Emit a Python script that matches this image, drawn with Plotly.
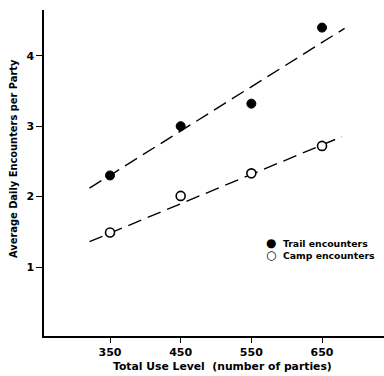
import plotly.graph_objects as go

# Data
use_level = [350, 450, 550, 650]
trail_encounters = [2.30, 3.00, 3.32, 4.40]
camp_encounters = [1.49, 2.01, 2.33, 2.72]

# Fitted (dashed) lines: endpoints
trail_fit_x = [321, 682]
trail_fit_y = [2.12, 4.39]
camp_fit_x = [321, 678]
camp_fit_y = [1.36, 2.85]

x_ticks = [350, 450, 550, 650]
y_ticks = [1, 2, 3, 4]

series_names = ["Trail encounters", "Camp encounters"]

FONT = "DejaVu Sans"
W, H = 384, 376
ML, MR, MT, MB = 44, 0, 10, 40
PW, PH = W - ML - MR, H - MT - MB


def px(x):
    return (x - ML) / PW


def py(y):
    return (H - MB - y) / PH


fig = go.Figure()
fig.add_trace(go.Scatter(x=trail_fit_x, y=trail_fit_y, mode="lines",
                         line=dict(color="black", width=1.4, dash="14px,7px"),
                         showlegend=False, hoverinfo="skip"))
fig.add_trace(go.Scatter(x=camp_fit_x, y=camp_fit_y, mode="lines",
                         line=dict(color="black", width=1.4, dash="14px,7px"),
                         showlegend=False, hoverinfo="skip"))
fig.add_trace(go.Scatter(x=use_level, y=trail_encounters, mode="markers",
                         name=series_names[0],
                         marker=dict(symbol="circle", size=9, color="black",
                                     line=dict(color="black", width=1))))
fig.add_trace(go.Scatter(x=use_level, y=camp_encounters, mode="markers",
                         name=series_names[1],
                         marker=dict(symbol="circle", size=9, color="white",
                                     line=dict(color="black", width=1.6))))

legend_text = (
    "<span style='font-size:12px'>●</span>  " + series_names[0] + "<br>"
    "<span style='font-size:12px'>○</span>  " + series_names[1]
)

annotations = [
    dict(text="Average Daily Encounters per Party", x=px(13), y=py(159),
         textangle=-90, font=dict(size=9.9, family=FONT, color="black", weight="bold")),
    dict(text="Total Use Level  (number of parties)", x=px(222), y=py(366),
         font=dict(size=10.8, family=FONT, color="black", weight="bold")),
    dict(text=legend_text, x=px(264), y=py(249), xanchor="left", align="left",
         font=dict(size=9.3, family=FONT, color="black", weight="bold")),
]
for a in annotations:
    a.setdefault("xanchor", "center")
    a.update(xref="paper", yref="paper", yanchor="middle", showarrow=False)

fig.update_layout(
    width=W, height=H,
    margin=dict(l=ML, r=MR, t=MT, b=MB),
    paper_bgcolor="white", plot_bgcolor="white",
    showlegend=False,
    annotations=annotations,
    font=dict(family=FONT, color="black"),
)
fig.update_xaxes(range=[256.6, 737.7], tickvals=x_ticks, showgrid=False, zeroline=False,
                 showline=True, linecolor="black", linewidth=1.5,
                 ticks="outside", ticklen=5, tickwidth=1.3, tickcolor="black",
                 tickfont=dict(size=11, family=FONT, color="black", weight="bold"))
fig.update_yaxes(range=[0.02, 4.65], tickvals=y_ticks, showgrid=False, zeroline=False,
                 showline=True, linecolor="black", linewidth=1.5,
                 ticks="outside", ticklen=6, tickwidth=1.3, tickcolor="black",
                 tickfont=dict(size=11, family=FONT, color="black", weight="bold"))

fig.write_html("out.html", config={"displayModeBar": False},
               post_script="document.body.style.margin='0';document.body.style.overflow='hidden';")
